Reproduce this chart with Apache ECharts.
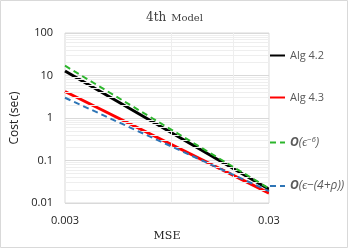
<!DOCTYPE html>
<html><head><meta charset="utf-8">
<script src="https://cdn.jsdelivr.net/npm/echarts@6/dist/echarts.min.js"></script>
<style>html,body{margin:0;padding:0;background:#fff}#c{width:349px;height:249px}</style>
</head><body><div id="c"></div>
<script>
const mse = [0.003, 0.03];
const alg42 = [12.8, 0.021];
const alg43 = [4.2, 0.017];
const orderEps6 = [17, 0.022];
const orderEps4rho = [3.0, 0.019];
const xLabels = [0.003, 0.03];
const minorX = [0.006, 0.009, 0.012, 0.015, 0.018, 0.021, 0.024, 0.027];
const minorY = [0.02,0.03,0.04,0.05,0.06,0.07,0.08,0.09,0.2,0.3,0.4,0.5,0.6,0.7,0.8,0.9,2,3,4,5,6,7,8,9,20,30,40,50,60,70,80,90];

const pts = ys => mse.map((x, i) => [x, ys[i]]);
const chart = echarts.init(document.getElementById('c'));
const grey = '#595959';
const legendRich = {
  o: {fontWeight: 'bold', fontStyle: 'italic', fontSize: 12, color: grey, fontFamily: 'Open Sans'},
  i: {fontStyle: 'italic', fontSize: 12, color: grey, fontFamily: 'Open Sans'},
  s: {fontStyle: 'italic', fontSize: 8, color: grey, verticalAlign: 'top', padding: [0,0,5,0], fontFamily: 'Open Sans'}
};
function mkLegend(name, top) {
  return {
    data: [name], left: 264, top: top, orient: 'vertical',
    itemWidth: 15, itemHeight: 10,
    itemStyle: {opacity: 0},
    textStyle: {color: grey, fontSize: 11, fontFamily: 'Open Sans', rich: legendRich},
    formatter: n => {
      if (n === 'e6') return '{o|O}{i|(ϵ}{s|−6}{i|)}';
      if (n === 'e4') return '{o|O}{i|(ϵ−(4+ρ))}';
      return n;
    },
    selectedMode: false
  };
}
chart.setOption({
  animation: false,
  title: {
    text: '{a|4th} {b|Model}', left: 'center', top: 4,
    textStyle: {fontWeight: 'normal', rich: {
      a: {fontFamily: 'DejaVu Serif', fontSize: 12, color: '#404040', fontWeight: 'normal'},
      b: {fontFamily: 'DejaVu Serif', fontSize: 10, color: '#404040', fontWeight: 'normal'}
    }}
  },
  grid: {left: 65, right: 80, top: 33, bottom: 46, show: true, borderColor: '#d9d9d9', borderWidth: 1},
  legend: [mkLegend('Alg 4.2', 45), mkLegend('Alg 4.3', 87), mkLegend('e6', 131), mkLegend('e4', 175)],
  xAxis: {
    type: 'log', min: 0.003, max: 0.03,
    name: 'MSE', nameLocation: 'middle', nameGap: 26,
    nameTextStyle: {fontFamily: 'DejaVu Serif', fontSize: 11, color: '#222'},
    axisLine: {show: false}, axisTick: {show: false}, splitLine: {show: false},
    axisLabel: {
      showMinLabel: true, showMaxLabel: true, margin: 12,
      color: '#222', fontSize: 11, fontFamily: 'Open Sans',
      formatter: v => {
        const r = Number(Number(v).toPrecision(3));
        return xLabels.includes(r) ? String(r) : '';
      }
    }
  },
  yAxis: {
    type: 'log', min: 0.01, max: 100,
    name: 'Cost (sec)', nameLocation: 'middle', nameGap: 41,
    nameTextStyle: {fontFamily: 'Open Sans', fontSize: 12, color: '#222'},
    axisLine: {show: false}, axisTick: {show: false},
    splitLine: {show: true, lineStyle: {color: '#d9d9d9', width: 1}},
    axisLabel: {color: '#222', fontSize: 11, fontFamily: 'Open Sans', margin: 12,
      formatter: v => String(Number(Number(v).toPrecision(3)))}
  },
  series: [
    {
      type: 'line', data: [], silent: true, z: 1,
      markLine: {
        silent: true, symbol: 'none', animation: false, label: {show: false},
        lineStyle: {color: '#eeeeee', width: 1, type: 'solid'},
        data: minorY.map(v => ({yAxis: v})).concat(minorX.map(v => ({xAxis: v})))
      }
    },
    {name: 'Alg 4.2', type: 'line', data: pts(alg42), symbol: 'none', z: 4,
     lineStyle: {color: '#000', width: 3}, itemStyle: {color: '#000'}},
    {name: 'Alg 4.3', type: 'line', data: pts(alg43), symbol: 'none', z: 3,
     lineStyle: {color: '#ff0000', width: 3}, itemStyle: {color: '#ff0000'}},
    {name: 'e6', type: 'line', data: pts(orderEps6), symbol: 'none', z: 5,
     lineStyle: {color: '#2cb52c', width: 2, type: [6, 4]}, itemStyle: {color: '#2cb52c'}},
    {name: 'e4', type: 'line', data: pts(orderEps4rho), symbol: 'none', z: 5,
     lineStyle: {color: '#2e75b6', width: 2, type: [6, 4]}, itemStyle: {color: '#2e75b6'}}
  ],
  graphic: [{type: 'rect', shape: {x: 0.5, y: 0.5, width: 347, height: 247},
    style: {fill: 'none', stroke: '#d9d9d9', lineWidth: 1}, silent: true}]
});
</script></body></html>
